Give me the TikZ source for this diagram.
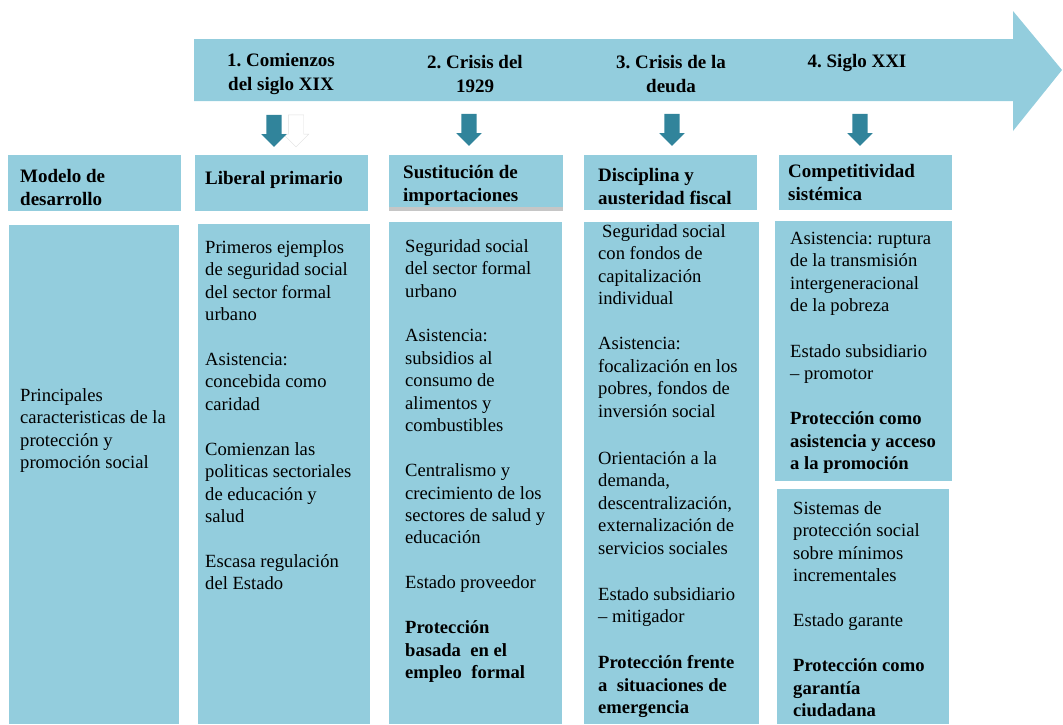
\documentclass[tikz,border=0pt]{standalone}
\usepackage{fontspec}
\setmainfont{Liberation Serif}
\frenchspacing
\usetikzlibrary{positioning,shapes.arrows}
\definecolor{aqua}{HTML}{93CDDD}
\definecolor{deepaqua}{HTML}{31849B}
\tikzset{main rectangle/.style={rectangle,fill=aqua,inner sep=0pt,anchor=north west},}
\tikzset{main text/.style={align=left,inner sep=0pt,font=\fontsize{18.6}{22.45}\selectfont},}
\tikzset{main label/.style={align=center,inner sep=0pt,font=\fontsize{19}{23.5}\selectfont\bfseries},}
\tikzset{main arrow/.style={single arrow,fill=deepaqua,rotate=-90,inner sep=7.5pt,single arrow head extend=5pt,minimum height=32pt,minimum width=25pt},}

\begin{document}
\begin{tikzpicture}[x=1pt,y=-1pt]
    \useasboundingbox (0,0) rectangle (1063,724);
    \fill[aqua] (194,39) -- (1013,39) -- (1013,11) -- (1062,70) -- (1013,131) -- (1013,101) -- (194,101) -- cycle;

    \node[main label] (p1) at (281,74) {1. Comienzos\\del siglo XIX};
    \node[main label] (p2) at (475,74) {2. Crisis del\\1929};
    \node[main label] (p3) at (671,74) {3. Crisis de la\\deuda};
    \node[main label] (p4) at (857,63) {4. Siglo XXI};

    \node[main arrow,fill=white,draw=gray!25] (g1) at (296,127) {};
    \node[main arrow] (a1) at (274,127) {};
    \node[main arrow] (a2) at (469,126) {};
    \node[main arrow] (a3) at (672,126) {};
    \node[main arrow] (a4) at (860,126) {};

    \fill[gray!45] (389,205) rectangle (563,211);
    \node[main rectangle,minimum width=173pt,minimum height=56pt] (h0) at (8,155) {};
    \node[main rectangle,minimum width=173pt,minimum height=56pt] (h1) at (195,155) {};
    \node[main rectangle,minimum width=174pt,minimum height=52pt] (h2) at (389,155) {};
    \node[main rectangle,minimum width=173pt,minimum height=55pt] (h3) at (584,155) {};
    \node[main rectangle,minimum width=173pt,minimum height=55pt] (h4) at (779,155) {};

    \node[main text,font=\fontsize{19}{22.7}\selectfont\bfseries] (ht0) [below right=14pt and 12pt of h0.north west] {Modelo de\\desarrollo};
    \node[main text,font=\fontsize{19}{22.7}\selectfont\bfseries] (ht1) [below right=16pt and 10pt of h1.north west] {Liberal primario};
    \node[main text,font=\fontsize{19}{22.7}\selectfont\bfseries] (ht2) [below right=10pt and 14pt of h2.north west] {Sustitución de\\importaciones};
    \node[main text,font=\fontsize{19}{22.7}\selectfont\bfseries] (ht3) [below right=13pt and 14pt of h3.north west] {Disciplina y\\austeridad fiscal};
    \node[main text,font=\fontsize{19}{22.7}\selectfont\bfseries] (ht4) [below right=9pt and 9pt of h4.north west] {Competitividad\\sistémica};

    \node[main rectangle,minimum width=170pt,minimum height=499pt] (b0) at (9,225) {};
    \node[main rectangle,minimum width=172pt,minimum height=500pt] (b1) at (198,224) {};
    \node[main rectangle,minimum width=173pt,minimum height=502pt] (b2) at (389,222) {};
    \node[main rectangle,minimum width=175pt,minimum height=502pt] (b3) at (584,222) {};
    \node[main rectangle,minimum width=177pt,minimum height=260pt] (b4) at (775,221) {};
    \node[main rectangle,minimum width=172pt,minimum height=235pt] (b5) at (777,489) {};

    \node[main text] (t0) [below right=163pt and 11pt of b0.north west] {Principales\\caracteristicas de la\\protección y\\promoción social};
    \node[main text] (t1) [below right=16pt and 7pt of b1.north west] {Primeros ejemplos\\de seguridad social\\del sector formal\\urbano\\[22.45pt]Asistencia:\\concebida como\\caridad\\[22.45pt]Comienzan las\\politicas sectoriales\\de educación y\\salud\\[22.45pt]Escasa regulación\\del Estado};
    \node[main text] (t2) [below right=17pt and 16pt of b2.north west] {Seguridad social\\del sector formal\\urbano\\[22.45pt]Asistencia:\\subsidios al\\consumo de\\alimentos y\\combustibles\\[22.45pt]Centralismo y\\crecimiento de los\\sectores de salud y\\educación\\[22.45pt]Estado proveedor\\[22.45pt]\textbf{Protección}\\\textbf{basada\ \ en el}\\\textbf{empleo\ \ formal}};
    \node[main text] (t3) [below right=2pt and 14pt of b3.north west] {\hspace{4pt}Seguridad social\\con fondos de\\capitalización\\individual\\[23pt]Asistencia:\\focalización en los\\pobres, fondos de\\inversión social\\[24.5pt]Orientación a la\\demanda,\\descentralización,\\externalización de\\servicios sociales\\[24pt]Estado subsidiario\\-- mitigador\\[23.5pt]\textbf{Protección frente}\\\textbf{a\ \ situaciones de}\\\textbf{emergencia}};
    \node[main text] (t4) [below right=11pt and 15pt of b4.north west] {Asistencia: ruptura\\de la transmisión\\intergeneracional\\de la pobreza\\[22.7pt]Estado subsidiario\\-- promotor\\[22.7pt]\textbf{Protección como}\\\textbf{asistencia y acceso}\\\textbf{a la promoción}};
    \node[main text] (t5) [below right=12pt and 16pt of b5.north west] {Sistemas de\\protección social\\sobre mínimos\\incrementales\\[22.7pt]Estado garante\\[22.7pt]\textbf{Protección como}\\\textbf{garantía}\\\textbf{ciudadana}};
\end{tikzpicture}
\end{document}
